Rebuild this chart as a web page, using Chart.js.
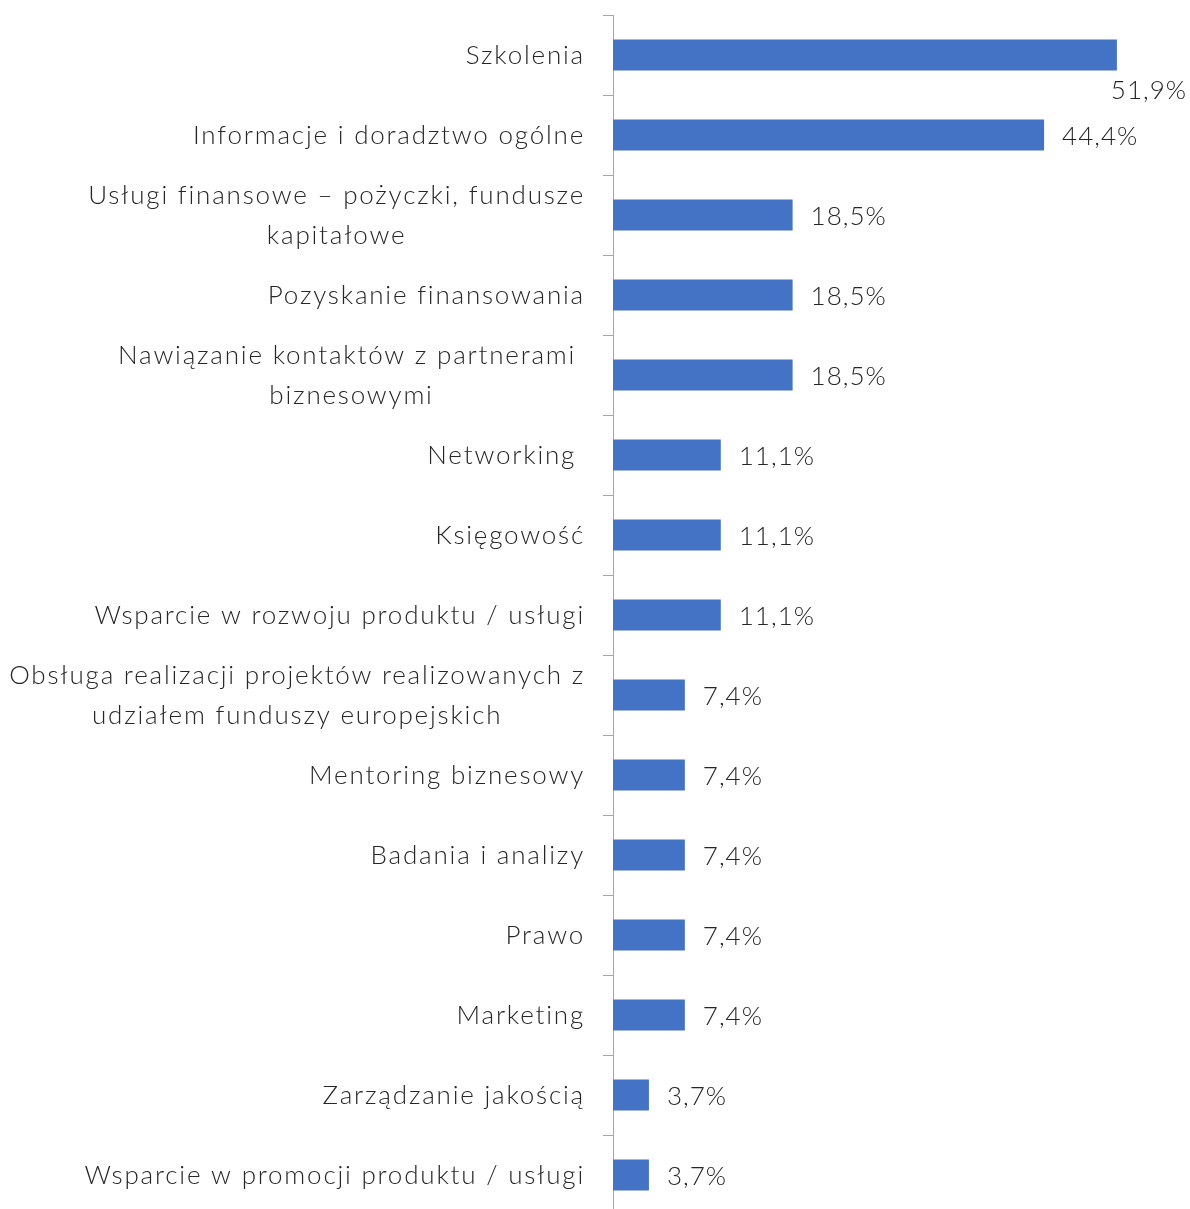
<!DOCTYPE html>
<html>
<head>
<meta charset="utf-8">
<script src="https://cdn.jsdelivr.net/npm/chart.js@4/dist/chart.umd.min.js"></script>
<style>
  html, body { margin: 0; padding: 0; background: #fff; overflow: hidden; }
  #wrap { width: 1190px; height: 1215px; }
</style>
</head>
<body>
<div id="wrap"><canvas id="chart" width="1190" height="1215"></canvas></div>
<script>
// Kategorie (wiersze wieloliniowe jako tablice) i wartości w %
const categories = [
  ['Szkolenia'],
  ['Informacje i doradztwo ogólne'],
  ['Usługi finansowe – pożyczki, fundusze', 'kapitałowe'],
  ['Pozyskanie finansowania'],
  ['Nawiązanie kontaktów z partnerami ', 'biznesowymi'],
  ['Networking '],
  ['Księgowość'],
  ['Wsparcie w rozwoju produktu / usługi'],
  ['Obsługa realizacji projektów realizowanych z', 'udziałem funduszy europejskich'],
  ['Mentoring biznesowy'],
  ['Badania i analizy'],
  ['Prawo'],
  ['Marketing'],
  ['Zarządzanie jakością'],
  ['Wsparcie w promocji produktu / usługi']
];
const values = [51.9, 44.4, 18.5, 18.5, 18.5, 11.1, 11.1, 11.1, 7.4, 7.4, 7.4, 7.4, 7.4, 3.7, 3.7];

const FONT = '300 26px Lato, "Open Sans", sans-serif';
const TEXT = '#262626';

const fmt = v => v.toFixed(1).replace('.', ',') + '%';

// Etykiety kategorii: blok wyrównany do prawej, linie wyśrodkowane w bloku
const categoryLabels = {
  id: 'categoryLabels',
  afterDraw(chart) {
    const { ctx } = chart;
    const y = chart.scales.y;
    const rightEdge = y.right - 28;
    ctx.save();
    ctx.font = FONT;
    ctx.letterSpacing = '1.8px';
    ctx.fillStyle = TEXT;
    ctx.textBaseline = 'middle';
    ctx.textAlign = 'center';
    categories.forEach((lines, i) => {
      const cy = y.getPixelForValue(i) + 1;
      const widths = lines.map(l => ctx.measureText(l).width);
      const block = Math.max(...widths);
      const cx = rightEdge - block / 2;
      const lh = 40;
      const top = cy - (lines.length - 1) * lh / 2;
      lines.forEach((l, k) => ctx.fillText(l, cx, top + k * lh));
    });
    ctx.restore();
  }
};

// Etykiety wartości przy końcach słupków
const valueLabels = {
  id: 'valueLabels',
  afterDatasetsDraw(chart) {
    const { ctx } = chart;
    const meta = chart.getDatasetMeta(0);
    ctx.save();
    ctx.font = FONT;
    ctx.letterSpacing = '1px';
    ctx.fillStyle = TEXT;
    ctx.textBaseline = 'middle';
    ctx.textAlign = 'left';
    meta.data.forEach((bar, i) => {
      const txt = fmt(values[i]);
      const w = ctx.measureText(txt).width;
      let x = bar.x + 18;
      let yy = bar.y + 2;
      if (x + w > chart.width - 3) {
        x = chart.width - 3 - w;
        yy = bar.y + 36;
      }
      ctx.fillText(txt, x, yy);
    });
    ctx.restore();
  }
};

new Chart(document.getElementById('chart'), {
  type: 'bar',
  data: {
    labels: categories.map(c => c.join(' ')),
    datasets: [{
      data: values,
      backgroundColor: '#4472C4',
      borderWidth: 0,
      barPercentage: 0.39,
      categoryPercentage: 1
    }]
  },
  options: {
    indexAxis: 'y',
    responsive: false,
    animation: false,
    layout: { padding: { top: 15, right: 43, bottom: 0, left: 0 } },
    plugins: {
      legend: { display: false },
      tooltip: { enabled: false }
    },
    scales: {
      x: { display: false, min: 0, max: 55 },
      y: {
        afterFit(scale) { scale.width = 613; },
        ticks: { display: false },
        grid: {
          offset: true,
          drawOnChartArea: false,
          drawTicks: true,
          tickLength: 10,
          color: '#A6A6A6'
        },
        border: { display: true, color: '#A6A6A6', width: 1 }
      }
    }
  },
  plugins: [categoryLabels, valueLabels]
});
</script>
</body>
</html>
